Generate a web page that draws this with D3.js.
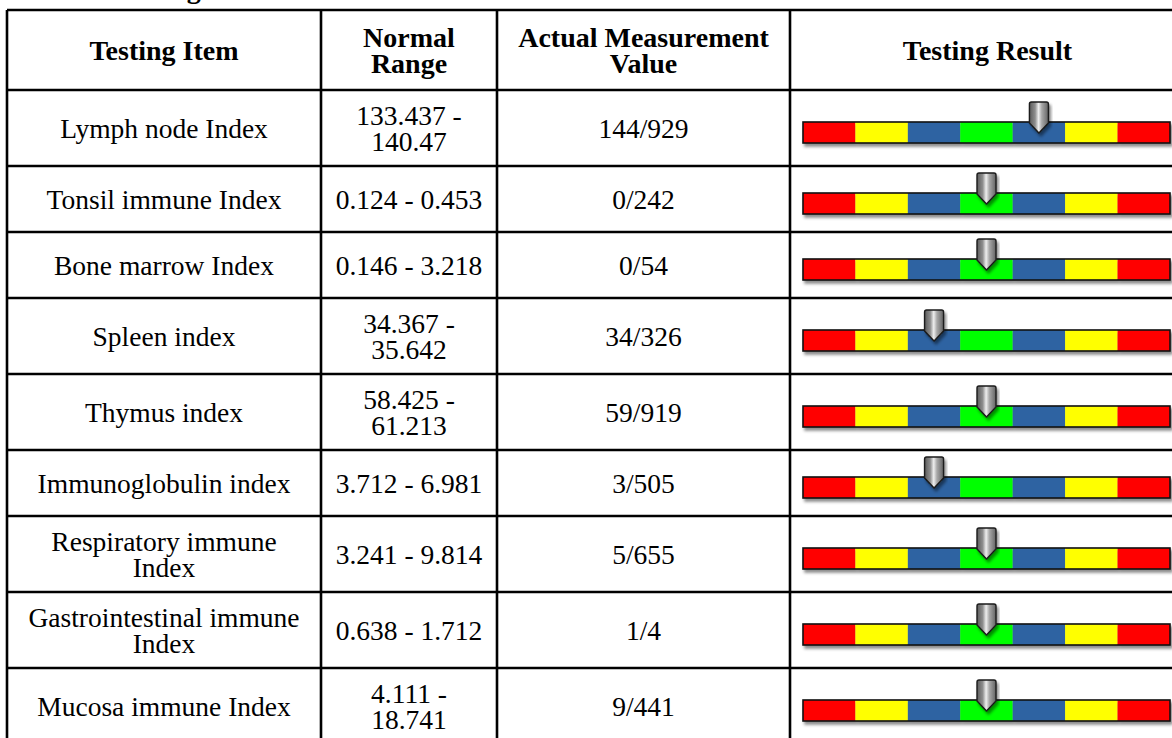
<!DOCTYPE html>
<html>
<head>
<meta charset="utf-8">
<script src="https://cdn.jsdelivr.net/npm/d3@7"></script>
<style>
  body { margin: 0; background: #fff; }
  svg { display: block; }
</style>
</head>
<body>
<svg class="chart"></svg>
<script>
var width = 1172, height = 738;
var serif = "'Liberation Serif', 'Times New Roman', serif";

// table data
var headers = ["Testing Item", "Normal Range", "Actual Measurement Value", "Testing Result"];
var items = ["Lymph node Index", "Tonsil immune Index", "Bone marrow Index", "Spleen index",
  "Thymus index", "Immunoglobulin index", "Respiratory immune Index",
  "Gastrointestinal immune Index", "Mucosa immune Index"];
var ranges = ["133.437 - 140.47", "0.124 - 0.453", "0.146 - 3.218", "34.367 - 35.642",
  "58.425 - 61.213", "3.712 - 6.981", "3.241 - 9.814", "0.638 - 1.712", "4.111 - 18.741"];
var measured = ["144/929", "0/242", "0/54", "34/326", "59/919", "3/505", "5/655", "1/4", "9/441"];
// which of the 7 gauge segments the pointer sits on
var level = [4, 3, 3, 2, 3, 2, 3, 3, 3];
var segColors = ["#ff0000", "#ffff00", "#2e64a2", "#00ff00", "#2e64a2", "#ffff00", "#ff0000"];

var fontSize = 27.5, headSize = 28, lineH = 26;
var colX = [7, 321, 497, 790, 1185];
var wrapW = [275, 153, 272, 360];

var svg = d3.select(".chart").attr("width", width).attr("height", height);

var defs = svg.append("defs");
var shadow = defs.append("filter").attr("id", "shadow")
  .attr("x", "-10%").attr("y", "-30%").attr("width", "130%").attr("height", "190%");
shadow.append("feDropShadow").attr("dx", 2).attr("dy", 3).attr("stdDeviation", 1.6)
  .attr("flood-color", "#000").attr("flood-opacity", 0.45);

var grad = defs.append("linearGradient").attr("id", "pin").attr("x1", 0).attr("x2", 1).attr("y1", 0).attr("y2", 0);
grad.append("stop").attr("offset", "0%").attr("stop-color", "#5a5a5a");
grad.append("stop").attr("offset", "30%").attr("stop-color", "#8e8e8e");
grad.append("stop").attr("offset", "48%").attr("stop-color", "#eeeeee");
grad.append("stop").attr("offset", "65%").attr("stop-color", "#a8a8a8");
grad.append("stop").attr("offset", "100%").attr("stop-color", "#626262");

// measuring text for wrapping
var measure = svg.append("text").attr("font-family", serif);
function wrap(str, maxW, bold) {
  measure.attr("font-weight", bold ? "bold" : "normal").attr("font-size", bold ? headSize : fontSize);
  var words = str.split(" "), lines = [], cur = "";
  words.forEach(function(w){
    var test = cur ? cur + " " + w : w;
    measure.text(test);
    if (measure.node().getComputedTextLength() > maxW && cur) {
      lines.push(cur);
      cur = w;
    } else cur = test;
  });
  lines.push(cur);
  return lines;
}

// title, mostly above the visible area
svg.append("text").attr("x", 7).attr("y", -2)
  .attr("font-family", serif).attr("font-size", 28).attr("font-weight", "bold").text("Immune Testing");

var headLines = headers.map(function(h, i){ return wrap(h, wrapW[i], true); });
var rows = items.map(function(d, i){
  var cells = [wrap(d, wrapW[0]), wrap(ranges[i], wrapW[1]), wrap(measured[i], wrapW[2])];
  var n = d3.max(cells, function(c){ return c.length; });
  return {cells: cells, level: level[i], h: Math.max(66, n * lineH + 24)};
});
measure.remove();

var tableTop = 10, headH = 80;
var rowY = [tableTop + headH];
rows.forEach(function(r, i){ rowY.push(rowY[i] + r.h); });

var seg = d3.scaleBand().domain(d3.range(segColors.length)).range([803, 1170]).paddingInner(0);

var g = svg.append("g");

function cellText(sel, lines, cx, cy, bold) {
  var t = sel.append("text").attr("text-anchor", "middle")
    .attr("font-family", serif).attr("font-size", bold ? headSize : fontSize)
    .attr("font-weight", bold ? "bold" : "normal").attr("fill", "#000");
  lines.forEach(function(l, k){
    t.append("tspan").attr("x", cx)
      .attr("y", cy + (k - (lines.length - 1) / 2) * lineH)
      .attr("dominant-baseline", "central").text(l);
  });
}

// header
headLines.forEach(function(lines, c){
  cellText(g, lines, (colX[c] + colX[c + 1]) / 2, tableTop + headH / 2, true);
});

// body rows
rows.forEach(function(r, i){
  var y0 = rowY[i], cy = y0 + r.h / 2;
  r.cells.forEach(function(lines, c){
    cellText(g, lines, (colX[c] + colX[c + 1]) / 2, cy, false);
  });

  var barTop = cy - 6, barH = 21;
  var gauge = g.append("g");
  var bar = gauge.append("g").attr("filter", "url(#shadow)");
  bar.selectAll("rect.seg").data(segColors).enter().append("rect")
    .attr("class", "seg")
    .attr("x", function(d, k){ return seg(k); })
    .attr("y", barTop)
    .attr("width", seg.bandwidth())
    .attr("height", barH)
    .attr("fill", function(d){ return d; });
  bar.append("rect")
    .attr("x", seg.range()[0]).attr("y", barTop)
    .attr("width", seg.range()[1] - seg.range()[0]).attr("height", barH)
    .attr("fill", "none").attr("stroke", "#111").attr("stroke-width", 1.6);

  var px = seg(r.level) + seg.bandwidth() / 2, pw = 19, pTop = barTop - 20;
  gauge.append("path")
    .attr("filter", "url(#shadow)")
    .attr("d", "M" + (px - pw / 2) + "," + (pTop + 2) +
      "Q" + (px - pw / 2) + "," + pTop + " " + (px - pw / 2 + 2) + "," + pTop +
      "L" + (px + pw / 2 - 2) + "," + pTop +
      "Q" + (px + pw / 2) + "," + pTop + " " + (px + pw / 2) + "," + (pTop + 2) +
      "L" + (px + pw / 2) + "," + (pTop + 21) +
      "L" + px + "," + (pTop + 31) +
      "L" + (px - pw / 2) + "," + (pTop + 21) + "Z")
    .attr("fill", "url(#pin)")
    .attr("stroke", "#1a1a1a").attr("stroke-width", 1.4).attr("stroke-linejoin", "round");
});

// grid lines
var lines = g.append("g").attr("stroke", "#000").attr("stroke-width", 2.6);
var hy = [tableTop].concat(rowY);
lines.selectAll("line.h").data(hy).enter().append("line")
  .attr("x1", colX[0]).attr("x2", colX[colX.length - 1])
  .attr("y1", function(d){ return d; }).attr("y2", function(d){ return d; });
lines.selectAll("line.v").data(colX).enter().append("line")
  .attr("x1", function(d){ return d; }).attr("x2", function(d){ return d; })
  .attr("y1", tableTop).attr("y2", rowY[rowY.length - 1]);
</script>
</body>
</html>
